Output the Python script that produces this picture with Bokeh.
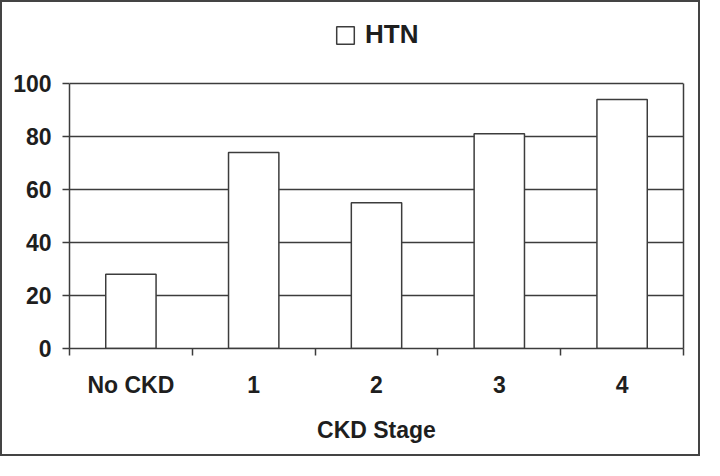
from bokeh.plotting import figure
from bokeh.models import ColumnDataSource, FixedTicker, Legend, LegendItem, Range1d, LinearAxis
from bokeh.embed import file_html
from bokeh.resources import INLINE

categories = ["No CKD", "1", "2", "3", "4"]
htn_values = [28, 74, 55, 81, 94]
y_ticks = [0, 20, 40, 60, 80, 100]

x_pos = [i + 0.5 for i in range(len(categories))]
src = ColumnDataSource(dict(x=x_pos, top=htn_values))

LINE = "#3c3c3c"
TEXT = "#1e1e1e"
FONT = "Liberation Sans"
Y_TOP = 126.8  # headroom above 100 for the legend

p = figure(width=700, height=456, output_backend="svg", toolbar_location=None,
           x_range=Range1d(0, len(categories)), y_range=Range1d(0, Y_TOP),
           min_border_left=67, min_border_right=19, min_border_top=10, min_border_bottom=110)
p.styles = {"border": "2px solid #444"}

p.outline_line_color = None
p.background_fill_color = "white"
p.border_fill_color = "white"

p.xgrid.visible = False
p.ygrid.grid_line_color = LINE
p.ygrid.grid_line_width = 1.5
p.ygrid.ticker = FixedTicker(ticks=y_ticks)

r = p.vbar(x="x", top="top", width=0.41, bottom=0, source=src,
           fill_color="white", line_color=LINE, line_width=1.5)

# y axis
p.yaxis.ticker = FixedTicker(ticks=y_ticks)
p.yaxis.bounds = (y_ticks[0], y_ticks[-1])
p.yaxis.major_tick_in = 0
p.yaxis.major_tick_out = 7
p.yaxis.minor_tick_line_color = None
p.yaxis.axis_line_color = LINE
p.yaxis.axis_line_width = 1.5
p.yaxis.major_tick_line_color = LINE
p.yaxis.major_tick_line_width = 1.5
p.yaxis.major_label_text_font = FONT
p.yaxis.major_label_text_font_style = "bold"
p.yaxis.major_label_text_font_size = "23px"
p.yaxis.major_label_text_color = TEXT
p.yaxis.major_label_standoff = 11

# right frame edge
right_axis = LinearAxis(ticker=FixedTicker(ticks=[]), bounds=(y_ticks[0], y_ticks[-1]),
                        axis_line_color=LINE, axis_line_width=1.5,
                        major_tick_line_color=None, minor_tick_line_color=None)
p.add_layout(right_axis, "right")

# x axis
p.xaxis.ticker = FixedTicker(ticks=x_pos, minor_ticks=list(range(len(categories) + 1)))
p.xaxis.major_label_overrides = {x: c for x, c in zip(x_pos, categories)}
p.xaxis.major_tick_line_color = None
p.xaxis.major_tick_in = 0
p.xaxis.major_tick_out = 7
p.xaxis.minor_tick_in = 0
p.xaxis.minor_tick_out = 7
p.xaxis.minor_tick_line_color = LINE
p.xaxis.minor_tick_line_width = 1.5
p.xaxis.axis_line_color = LINE
p.xaxis.axis_line_width = 1.5
p.xaxis.major_label_text_font = FONT
p.xaxis.major_label_text_font_style = "bold"
p.xaxis.major_label_text_font_size = "23px"
p.xaxis.major_label_text_color = TEXT
p.xaxis.major_label_standoff = 16
p.xaxis.axis_label = "CKD Stage"
p.xaxis.axis_label_text_font = FONT
p.xaxis.axis_label_text_font_style = "bold"
p.xaxis.axis_label_text_font_size = "23px"
p.xaxis.axis_label_text_color = TEXT
p.xaxis.axis_label_standoff = 16

legend = Legend(items=[LegendItem(label="HTN", renderers=[r])],
                location=(265, 298), orientation="horizontal",
                glyph_width=22, glyph_height=22, label_standoff=9,
                padding=0, margin=0, border_line_color=None,
                background_fill_alpha=0,
                label_text_font=FONT, label_text_font_style="bold",
                label_text_font_size="26px", label_text_color=TEXT)
p.add_layout(legend)

open("out.html", "w").write(file_html(p, INLINE))
